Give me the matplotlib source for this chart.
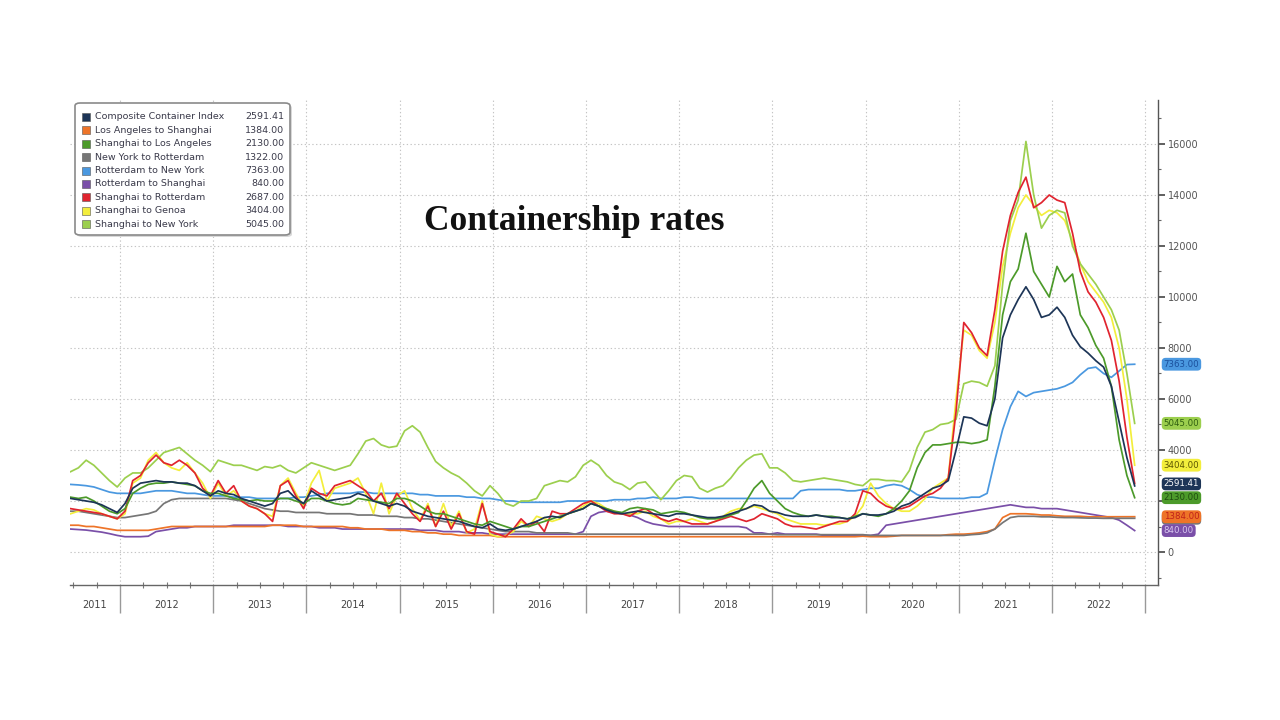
import numpy as np
import matplotlib
matplotlib.use("Agg")
import matplotlib.pyplot as plt
import matplotlib.transforms as mtransforms
from matplotlib.patches import FancyBboxPatch, Rectangle

# ---------------- data (monthly samples) ----------------
START = 2011.47
N_MONTHS = 138
t = START + np.arange(N_MONTHS) / 12.0

names = ["Composite Container Index", "Los Angeles to Shanghai", "Shanghai to Los Angeles",
         "New York to Rotterdam", "Rotterdam to New York", "Rotterdam to Shanghai",
         "Shanghai to Rotterdam", "Shanghai to Genoa", "Shanghai to New York"]
last_values = [2591.41, 1384.00, 2130.00, 1322.00, 7363.00, 840.00, 2687.00, 3404.00, 5045.00]
colors = ["#1d3557", "#ee7428", "#4c9a2a", "#767676", "#4a98e0", "#7a4fa8",
          "#e0242f", "#f3ee3c", "#9ccf4e"]
label_text_colors = ["#ffffff", "#c0201a", "#1f4d10", "#333333", "#1a4f9c", "#d8c8f0",
                     "#ffffff", "#5a5500", "#2f5f10"]

composite = [2100, 2050, 2000, 1950, 1850, 1700, 1550,
             1900, 2500, 2700, 2750, 2800, 2750, 2750, 2700, 2700, 2600, 2400, 2200,
             2400, 2300, 2250, 2100, 2000, 1900, 1800, 1900, 2300, 2400, 2100, 1900,
             2400, 2200, 2000, 2050, 2100, 2150, 2300, 2200, 2000, 1900, 1800, 1900,
             1800, 1600, 1500, 1400, 1350, 1300, 1250, 1200, 1100, 1000, 950, 1100,
             900, 850, 900, 1000, 1100, 1200, 1350, 1400, 1350, 1500, 1600, 1700,
             1900, 1800, 1650, 1550, 1500, 1550, 1600, 1550, 1500, 1450, 1400, 1500,
             1500, 1450, 1400, 1350, 1350, 1400, 1500, 1600, 1700, 1850, 1800, 1600,
             1550, 1450, 1400, 1400, 1400, 1450, 1400, 1350, 1350, 1300, 1350, 1500,
             1450, 1450, 1500, 1600, 1800, 1900, 2100, 2300, 2500, 2600, 2800, 4000,
             5300, 5250, 5050, 4950, 6000, 8400, 9300, 9900, 10400, 9900, 9200, 9300,
             9600, 9200, 8500, 8050, 7800, 7500, 7250, 6500, 5100, 3700, 2591.41]

la_shanghai = [1050, 1050, 1000, 1000, 950, 900, 850,
               850, 850, 850, 850, 900, 950, 1000, 1000, 1000, 1000, 1000, 1000,
               1000, 1000, 1000, 1000, 1000, 1000, 1000, 1050, 1050, 1050, 1050, 1000,
               1000, 1000, 1000, 1000, 1000, 950, 950, 900, 900, 900, 850, 850,
               850, 800, 800, 750, 750, 700, 700, 650, 650, 650, 650, 650,
               600, 600, 600, 600, 600, 600, 600, 600, 600, 600, 600, 600,
               600, 600, 600, 600, 600, 600, 600, 600, 600, 600, 600, 600,
               600, 600, 600, 600, 600, 600, 600, 600, 600, 600, 600, 600,
               600, 600, 600, 600, 600, 600, 600, 600, 600, 600, 600, 620,
               600, 600, 600, 620, 650, 650, 650, 650, 650, 650, 680, 700,
               700, 720, 750, 800, 900, 1350, 1500, 1500, 1500, 1480, 1450, 1450,
               1420, 1400, 1400, 1400, 1380, 1380, 1380, 1380, 1384, 1384, 1384]

shanghai_la = [2150, 2100, 2150, 2000, 1800, 1600, 1500,
               1700, 2300, 2500, 2650, 2700, 2700, 2750, 2700, 2650, 2600, 2400, 2300,
               2300, 2200, 2100, 2050, 2000, 2050, 2000, 2000, 2100, 2100, 2000, 1900,
               2100, 2100, 2000, 1900, 1850, 1900, 2100, 2050, 2000, 1950, 1900, 2100,
               2100, 2000, 1800, 1600, 1500, 1500, 1400, 1300, 1200, 1100, 1050, 1200,
               1100, 1000, 900, 1000, 1000, 1100, 1200, 1300, 1400, 1500, 1600, 1700,
               1900, 1800, 1700, 1600, 1550, 1700, 1750, 1700, 1650, 1500, 1550, 1600,
               1550, 1450, 1350, 1300, 1300, 1350, 1450, 1550, 2000, 2500, 2800, 2300,
               2000, 1700, 1550, 1450, 1400, 1450, 1400, 1400, 1350, 1300, 1400, 1500,
               1450, 1400, 1500, 1700, 2000, 2400, 3300, 3900, 4200, 4200, 4250, 4300,
               4300, 4250, 4300, 4400, 6500, 9300, 10600, 11100, 12500, 11000, 10500, 10000,
               11200, 10600, 10900, 9300, 8800, 8100, 7600, 6500, 4400, 3000, 2130]

ny_rotterdam = [1600, 1600, 1550, 1500, 1450, 1400, 1350,
                1350, 1400, 1450, 1500, 1600, 1900, 2050, 2100, 2100, 2100, 2100, 2100,
                2100, 2100, 2050, 2000, 1900, 1800, 1700, 1650, 1600, 1600, 1550, 1550,
                1550, 1550, 1500, 1500, 1500, 1500, 1450, 1450, 1450, 1400, 1400, 1400,
                1350, 1350, 1300, 1300, 1250, 1200, 1150, 1100, 1050, 1000, 950, 900,
                850, 800, 800, 800, 800, 750, 750, 750, 750, 750, 700, 700,
                700, 700, 700, 700, 700, 700, 700, 700, 700, 700, 700, 700,
                700, 700, 700, 700, 700, 700, 700, 700, 700, 700, 700, 700,
                680, 680, 680, 680, 680, 680, 680, 680, 680, 680, 680, 680,
                650, 650, 650, 650, 650, 650, 650, 650, 650, 650, 650, 650,
                650, 680, 700, 750, 900, 1150, 1350, 1400, 1400, 1400, 1380, 1380,
                1360, 1350, 1350, 1340, 1330, 1330, 1320, 1320, 1322, 1322, 1322]

rotterdam_ny = [2650, 2630, 2600, 2550, 2450, 2350, 2300,
                2300, 2300, 2300, 2350, 2400, 2400, 2400, 2350, 2300, 2300, 2250, 2200,
                2200, 2200, 2150, 2150, 2150, 2100, 2100, 2100, 2100, 2100, 2150, 2150,
                2200, 2250, 2300, 2300, 2300, 2300, 2350, 2350, 2300, 2300, 2300, 2300,
                2300, 2300, 2250, 2250, 2200, 2200, 2200, 2200, 2150, 2150, 2100, 2100,
                2050, 2000, 2000, 1950, 1950, 1950, 1950, 1950, 1950, 2000, 2000, 2000,
                2000, 2000, 2000, 2050, 2050, 2050, 2100, 2100, 2150, 2100, 2100, 2100,
                2150, 2150, 2100, 2100, 2100, 2100, 2100, 2100, 2100, 2100, 2100, 2100,
                2100, 2100, 2100, 2400, 2450, 2450, 2450, 2450, 2450, 2400, 2400, 2450,
                2500, 2500, 2600, 2650, 2600, 2450, 2250, 2150, 2150, 2100, 2100, 2100,
                2100, 2150, 2150, 2300, 3600, 4800, 5700, 6300, 6100, 6250, 6300, 6350,
                6400, 6500, 6650, 6950, 7200, 7250, 7000, 6850, 7100, 7350, 7363]

rotterdam_shanghai = [900, 880, 860, 820, 780, 720, 650,
                      600, 600, 600, 620, 800, 850, 900, 950, 950, 1000, 1000, 1000,
                      1000, 1000, 1050, 1050, 1050, 1050, 1050, 1050, 1050, 1000, 1000, 1000,
                      1000, 950, 950, 950, 900, 900, 900, 900, 900, 900, 900, 900,
                      900, 900, 850, 850, 850, 800, 800, 800, 750, 750, 750, 700,
                      700, 700, 700, 700, 700, 700, 700, 700, 700, 700, 700, 800,
                      1400, 1550, 1600, 1550, 1500, 1450, 1350, 1200, 1100, 1050, 1000, 1000,
                      1000, 1000, 1000, 1000, 1000, 1000, 1000, 1000, 950, 750, 750, 700,
                      750, 700, 700, 700, 700, 700, 650, 650, 650, 650, 650, 650,
                      650, 700, 1050, 1100, 1150, 1200, 1250, 1300, 1350, 1400, 1450, 1500,
                      1550, 1600, 1650, 1700, 1750, 1800, 1850, 1800, 1750, 1750, 1700, 1700,
                      1700, 1650, 1600, 1550, 1500, 1450, 1400, 1350, 1250, 1050, 840]

shanghai_rotterdam = [1700, 1650, 1600, 1550, 1500, 1400, 1300,
                      1600, 2800, 3000, 3500, 3800, 3500, 3400, 3600, 3400, 3100, 2500, 2200,
                      2800, 2300, 2600, 2000, 1800, 1700, 1500, 1200, 2600, 2800, 2200, 1700,
                      2500, 2300, 2200, 2600, 2700, 2800, 2600, 2400, 2000, 2300, 1700, 2300,
                      1900, 1500, 1200, 1800, 1000, 1600, 900, 1500, 800, 700, 1900, 800,
                      700, 600, 900, 1300, 1000, 1200, 800, 1600, 1500, 1500, 1700, 1900,
                      2000, 1800, 1600, 1500, 1500, 1400, 1600, 1700, 1500, 1300, 1200, 1300,
                      1200, 1100, 1100, 1100, 1200, 1300, 1400, 1300, 1200, 1300, 1500, 1400,
                      1300, 1100, 1000, 1000, 950, 900, 1000, 1100, 1200, 1200, 1500, 2400,
                      2300, 2000, 1800, 1700, 1700, 1800, 2000, 2200, 2300, 2500, 2900, 5500,
                      9000, 8600, 8000, 7700, 9500, 11800, 13200, 14100, 14700, 13500, 13700, 14000,
                      13800, 13700, 12500, 11000, 10200, 9800, 9200, 8300, 6700, 4500, 2687]

shanghai_genoa = [1500, 1600, 1700, 1650, 1500, 1400, 1300,
                  1500, 2700, 2900, 3600, 3900, 3500, 3300, 3200, 3500, 3100, 2700, 2100,
                  2700, 2200, 2400, 2000, 1800, 1700, 1500, 1400, 2600, 2900, 2300, 1800,
                  2700, 3200, 2000, 2500, 2600, 2700, 2900, 2300, 1500, 2700, 1500, 2200,
                  2400, 1700, 1250, 1900, 1000, 1900, 1000, 1600, 750, 900, 2000, 700,
                  600, 650, 800, 1200, 1000, 1400, 1300, 1200, 1300, 1500, 1600, 1800,
                  2000, 1900, 1700, 1600, 1500, 1500, 1500, 1600, 1400, 1300, 1100, 1200,
                  1200, 1300, 1200, 1100, 1200, 1400, 1600, 1700, 1700, 1800, 1700, 1600,
                  1500, 1300, 1200, 1100, 1100, 1100, 1050, 1100, 1100, 1200, 1400, 1800,
                  2700, 2200, 1900, 1700, 1600, 1600, 1800, 2100, 2500, 2700, 2900, 6000,
                  8700, 8500, 7900, 7600, 9000, 11200, 12500, 13500, 14000, 13600, 13200, 13400,
                  13300, 13000, 12200, 11300, 10600, 10200, 9800, 9200, 8000, 6000, 3404]

shanghai_ny = [3150, 3300, 3600, 3400, 3100, 2800, 2550,
               2900, 3100, 3100, 3300, 3600, 3900, 4000, 4100, 3850, 3600, 3400, 3150,
               3600, 3500, 3400, 3400, 3300, 3200, 3350, 3300, 3400, 3200, 3100, 3300,
               3500, 3400, 3300, 3200, 3300, 3400, 3850, 4350, 4450, 4200, 4100, 4150,
               4750, 4950, 4700, 4100, 3550, 3300, 3100, 2950, 2700, 2400, 2200, 2600,
               2300, 1900, 1800, 2000, 2000, 2100, 2600, 2700, 2800, 2750, 2950, 3400,
               3600, 3400, 3000, 2750, 2650, 2450, 2700, 2750, 2400, 2050, 2400, 2800,
               3000, 2950, 2500, 2350, 2500, 2600, 2900, 3300, 3600, 3800, 3850, 3300,
               3300, 3100, 2800, 2750, 2800, 2850, 2900, 2850, 2800, 2750, 2650, 2600,
               2850, 2850, 2800, 2800, 2750, 3200, 4100, 4700, 4800, 5000, 5050, 5200,
               6600, 6700, 6650, 6500, 7300, 10500, 13000, 13800, 16100, 14000, 12700, 13200,
               13400, 13300, 12000, 11300, 10900, 10500, 10000, 9500, 8700, 7000, 5045]

series = [composite, la_shanghai, shanghai_la, ny_rotterdam, rotterdam_ny,
          rotterdam_shanghai, shanghai_rotterdam, shanghai_genoa, shanghai_ny]

year_ticks = list(range(2012, 2024))
year_labels = ["2011", "2012", "2013", "2014", "2015", "2016", "2017", "2018",
               "2019", "2020", "2021", "2022"]
y_ticks = list(range(0, 16001, 2000))
# the "2000" tick label is covered by the value boxes in the source chart
y_tick_labels = ["" if v == 2000 else str(v) for v in y_ticks]

# ---------------- figure ----------------
W, H = 1280, 720
fig = plt.figure(figsize=(W / 100, H / 100), dpi=100)
fig.patch.set_facecolor("white")
L, R, T, B = 70, 1158, 100, 585
ax = fig.add_axes([L / W, 1 - B / H, (R - L) / W, (B - T) / H])
XMIN, XMAX = 2011.4635, 2023.137
ax.set_xlim(XMIN, XMAX)
ax.set_ylim(-1294, 17725)

# draw series (composite last so it sits on top)
order = [5, 1, 3, 4, 7, 8, 6, 2, 0]
for n, i in enumerate(order):
    ax.plot(t, series[i], color=colors[i], lw=1.25, zorder=3 + n * 0.01)

# spines
for s in ["left", "top"]:
    ax.spines[s].set_visible(False)
ax.spines["right"].set_color("#555555")
ax.spines["right"].set_linewidth(1.0)
ax.spines["bottom"].set_color("#666666")
ax.spines["bottom"].set_linewidth(1.0)

# y axis on the right
ax.yaxis.tick_right()
ax.set_yticks(y_ticks)
ax.set_yticklabels(y_tick_labels)
ax.set_yticks(list(range(-1000, 17001, 1000)), minor=True)
ax.tick_params(axis="y", which="major", direction="out", length=5, width=1.2,
               color="#444444", labelsize=7, labelcolor="#555555", pad=2)
ax.tick_params(axis="y", which="minor", direction="out", length=2.5, width=0.8,
               color="#666666")

# x axis: year separators (major, long) + centred labels (minor, no tick)
ax.set_xticks(year_ticks)
ax.set_xticklabels([""] * len(year_ticks))
centers = [(XMIN + 2012) / 2] + [y + 0.5 for y in range(2012, 2023)]
ax.set_xticks(centers, minor=True)
ax.set_xticklabels(year_labels, minor=True)
ax.tick_params(axis="x", which="major", direction="out", length=20, width=1.0,
               color="#999999")
ax.tick_params(axis="x", which="minor", length=0, labelsize=7, labelcolor="#444444", pad=11)

# quarterly small ticks
sec = ax.secondary_xaxis("bottom")
q = [y + f for y in range(2011, 2023) for f in (0.25, 0.5, 0.75) if XMIN < y + f < 2023]
sec.set_xticks(q)
sec.set_xticklabels([""] * len(q))
sec.tick_params(direction="inout", length=4, width=0.8, color="#777777")
sec.spines["bottom"].set_visible(False)

# grid
ax.grid(True, which="major", axis="both", color="#c4c4c4", lw=0.8,
        linestyle=(0, (1.2, 2.2)), zorder=0)
ax.set_axisbelow(True)

# right-hand value labels (nudged apart so they do not collide)
blend = mtransforms.blended_transform_factory(ax.transAxes, ax.transData)
MIN_GAP = 540
visible = [5, 1, 2, 0, 7, 8, 4]          # bottom to top
pos = {}
prev = None
for i in visible:
    y = last_values[i]
    if prev is not None and y < prev + MIN_GAP:
        y = prev + MIN_GAP
    pos[i] = y
    prev = y
pos[3] = last_values[3]                  # sits behind the orange label, as in the source
label_order = [3, 5, 1, 2, 0, 7, 8, 4]
for i in label_order:
    v = last_values[i]
    ax.text(1.0052, pos[i], f"{v:.2f}", transform=blend, ha="left", va="center",
            fontsize=6.2, color=label_text_colors[i], clip_on=False, zorder=10,
            bbox=dict(boxstyle="round,pad=0.22,rounding_size=0.45", fc=colors[i],
                      ec="none"))

# legend box (manual, Bloomberg style)
lx0, ly0, lx1, ly1 = 75, 103, 290, 235
shadow = FancyBboxPatch(((lx0 + 2) / W, 1 - (ly1 + 2) / H), (lx1 - lx0) / W, (ly1 - ly0) / H,
                        boxstyle="round,pad=0,rounding_size=0.004",
                        transform=fig.transFigure, fc="#d8d8d8", ec="none", zorder=19)
fig.add_artist(shadow)
box = FancyBboxPatch((lx0 / W, 1 - ly1 / H), (lx1 - lx0) / W, (ly1 - ly0) / H,
                     boxstyle="round,pad=0,rounding_size=0.004",
                     transform=fig.transFigure, fc="white", ec="#8a8a8a", lw=1.2,
                     zorder=20)
fig.add_artist(box)
row0, dy = 116.7, 13.45
for j, (nm, val, c) in enumerate(zip(names, last_values, colors)):
    yc = row0 + j * dy
    fig.add_artist(Rectangle((82 / W, 1 - (yc + 4) / H), 8 / W, 8 / H,
                             transform=fig.transFigure, fc=c, ec="#555555", lw=0.4,
                             zorder=21))
    fig.text(95 / W, 1 - yc / H, nm, fontsize=6.8, color="#3a3a4a", va="center",
             ha="left", zorder=22)
    fig.text(284 / W, 1 - yc / H, f"{val:.2f}", fontsize=6.8, color="#3a3a4a",
             va="center", ha="right", zorder=22)

# title
fig.text(574 / W, 1 - 222 / H, "Containership rates", fontsize=25.5, fontweight="bold",
         family=["Liberation Serif", "DejaVu Serif"], color="#111111",
         ha="center", va="center", zorder=25)

fig.savefig("out.png", dpi=100, facecolor="white")
